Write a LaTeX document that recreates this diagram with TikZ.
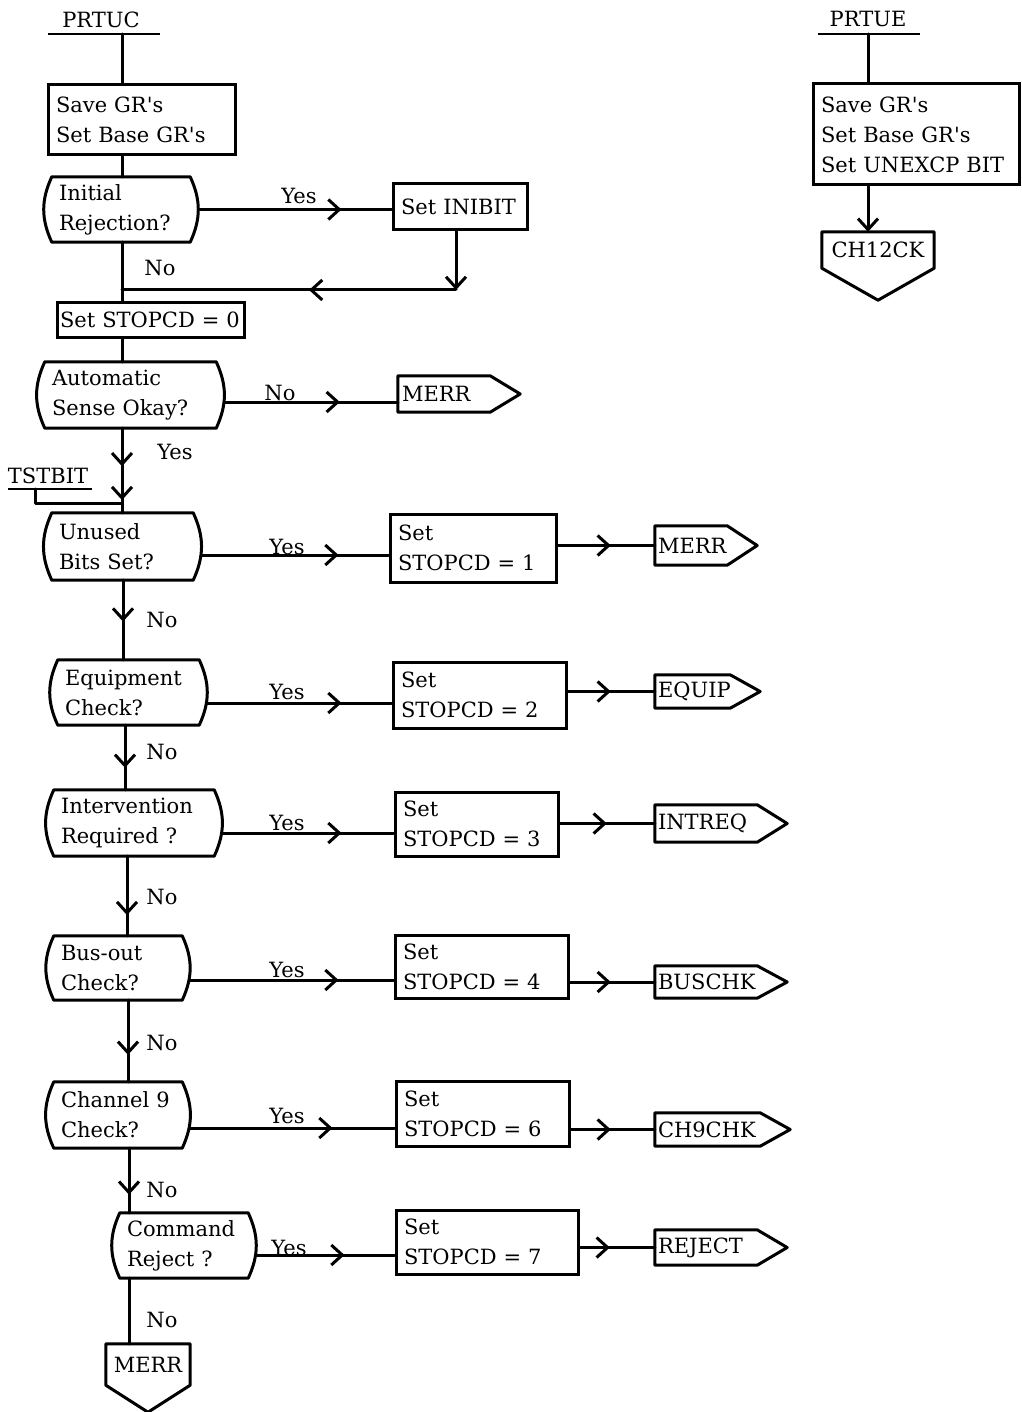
\documentclass[tikz,border=0pt]{standalone}
\usepackage{fontspec}
\setmainfont{DejaVu Serif}
\usetikzlibrary{arrows.meta,decorations.markings}
\newcommand{\fs}{\fontsize{21}{30}\selectfont}
\newcommand{\apos}{\textquotesingle}
\tikzset{
  chev/.tip={Straight Barb[length=11pt,width=20pt]},
  flow/.style={line width=3pt, line join=round, line cap=round},
  thinline/.style={line width=1.5pt},
  box/.style={draw, line width=3pt, rectangle, inner xsep=8pt, inner ysep=0pt, align=left},
  dec/.style={rectangle, inner xsep=15pt, inner ysep=0pt, align=left},
  conn/.style={rectangle, inner xsep=4pt, inner ysep=0pt, align=left},
  lbl/.style={inner sep=0pt},
  ma/.style={decoration={markings, mark=at position #1 with {\arrow{chev}}}, postaction={decorate}},
}
\newcommand{\decshape}[1]{\draw[flow] ([xshift=8pt]#1.north west) -- ([xshift=-8pt]#1.north east) to[out=-65,in=65] ([xshift=-8pt]#1.south east) -- ([xshift=8pt]#1.south west) to[out=115,in=-115] ([xshift=8pt]#1.north west) -- cycle;}
\newcommand{\sigR}[1]{\draw[flow] (#1.north west) -- (#1.north east) -- ([xshift=30pt]#1.east) -- (#1.south east) -- (#1.south west) -- cycle;}
\newcommand{\sigD}[2]{\draw[flow] (#1.north west) -- (#1.north east) -- (#1.south east) -- ([yshift=-#2]#1.south) -- (#1.south west) -- cycle;}
\begin{document}
\begin{tikzpicture}[x=1pt,y=-1pt,font=\fs]
\useasboundingbox (0,0) rectangle (1021,1412);

% ---------- left column ----------
\node[lbl] (prtuc) at (101,20) {PRTUC};
\coordinate (pcL) at (48,34); \coordinate (pcR) at (160,34); \coordinate (pc) at (122,34);
\draw[thinline] (pcL) -- (pcR);

\node[box, minimum width=187pt, minimum height=70pt, text width=171pt] (b0) at (141.5,120) {Save GR\apos s\\Set Base GR\apos s};

\node[dec, minimum width=154pt, minimum height=65pt, text width=124pt] (d1) at (121,209.5) {Initial\\Rejection?};
\decshape{d1}
\node[box, minimum width=134pt, minimum height=46pt, text width=118pt] (ini) at (460,207) {Set INIBIT};

\node[box, minimum width=187pt, minimum height=34pt, inner xsep=3pt, text width=181pt] (s0) at (150.5,320) {Set STOPCD = 0};

\node[dec, minimum width=187pt, minimum height=66pt, text width=157pt] (d2) at (130.5,395) {Automatic\\Sense Okay?};
\decshape{d2}
\node[conn, minimum width=92pt, minimum height=36pt, text width=84pt] (m1) at (444,394) {MERR};
\sigR{m1}

\node[lbl] (tst) at (48,476) {TSTBIT};
\coordinate (tsL) at (8,489); \coordinate (tsR) at (92,489);
\draw[thinline] (tsL) -- (tsR);
\coordinate (tsA) at (35,489); \coordinate (tsJ) at (122,503);

\node[dec, minimum width=157pt, minimum height=67pt, text width=127pt] (d3) at (122.5,546.5) {Unused\\Bits Set?};
\decshape{d3}
\node[box, minimum width=166pt, minimum height=68pt, text width=150pt] (s1) at (473,548) {Set\\STOPCD = 1};
\node[conn, minimum width=72pt, minimum height=39pt, inner xsep=3pt, text width=66pt] (m2) at (691,545.5) {MERR};
\sigR{m2}

\node[dec, minimum width=157pt, minimum height=65pt, text width=127pt] (d4) at (128.5,692.5) {Equipment\\Check?};
\decshape{d4}
\node[box, minimum width=173pt, minimum height=66pt, text width=157pt] (s2) at (479.5,695) {Set\\STOPCD = 2};
\node[conn, minimum width=75pt, minimum height=33pt, inner xsep=3pt, text width=69pt] (eq) at (692.5,691.5) {EQUIP};
\sigR{eq}

\node[dec, minimum width=176pt, minimum height=66pt, text width=146pt] (d5) at (134,823) {Intervention\\Required ?};
\decshape{d5}
\node[box, minimum width=163pt, minimum height=64pt, text width=147pt] (s3) at (476.5,824) {Set\\STOPCD = 3};
\node[conn, minimum width=102pt, minimum height=37pt, inner xsep=3pt, text width=96pt] (intr) at (706,823.5) {INTREQ};
\sigR{intr}

\node[dec, minimum width=144pt, minimum height=64pt, text width=114pt] (d6) at (118,968) {Bus-out\\Check?};
\decshape{d6}
\node[box, minimum width=173pt, minimum height=63pt, text width=157pt] (s4) at (481.5,966.5) {Set\\STOPCD = 4};
\node[conn, minimum width=102pt, minimum height=32pt, inner xsep=3pt, text width=96pt] (bus) at (706,982) {BUSCHK};
\sigR{bus}

\node[dec, minimum width=144pt, minimum height=66pt, text width=114pt] (d7) at (118,1115) {Channel 9\\Check?};
\decshape{d7}
\node[box, minimum width=173pt, minimum height=65pt, text width=157pt] (s6) at (482.5,1113.5) {Set\\STOPCD = 6};
\node[conn, minimum width=105pt, minimum height=33pt, inner xsep=3pt, text width=99pt] (ch9) at (707.5,1129.5) {CH9CHK};
\sigR{ch9}

\node[dec, minimum width=144pt, minimum height=65pt, text width=114pt] (d8) at (184,1245.5) {Command\\Reject ?};
\decshape{d8}
\node[box, minimum width=182pt, minimum height=64pt, text width=166pt] (s7) at (487,1242) {Set\\STOPCD = 7};
\node[conn, minimum width=102pt, minimum height=35pt, inner xsep=3pt, text width=96pt] (rej) at (706,1247.5) {REJECT};
\sigR{rej}

\node[conn, minimum width=84pt, minimum height=41pt, align=center] (mB) at (148,1364.5) {MERR};
\sigD{mB}{27pt}

% ---------- right column ----------
\node[lbl] (prtue) at (868,19) {PRTUE};
\coordinate (peL) at (818,34); \coordinate (peR) at (920,34); \coordinate (pe) at (868,34);
\draw[thinline] (peL) -- (peR);
\node[box, minimum width=206pt, minimum height=101pt, inner xsep=8pt, text width=190pt] (e0) at (916,134.5) {Save GR\apos s\\Set Base GR\apos s\\Set UNEXCP BIT};
\node[conn, minimum width=112pt, minimum height=36pt, align=center] (ch12) at (878,250) {CH12CK};
\sigD{ch12}{32pt}

% ---------- connectors ----------
\coordinate (c3) at (123,0); \coordinate (c4) at (125,0); \coordinate (c5) at (127,0);
\coordinate (c6) at (128,0); \coordinate (c7) at (129,0);
\coordinate (j1) at (122,290);

\draw[flow] (pc) -- (pc |- b0.north);
\draw[flow] (b0.south -| pc) -- (d1.north -| pc);
\draw[flow, ma=-50pt] (d1.east) -- (d1.east -| ini.west);
\draw[flow, -{chev}] ([xshift=-4pt]ini.south) -- ([xshift=-4pt]ini.south |- j1);
\draw[flow, ma=0.44] ([xshift=-4pt]ini.south |- j1) -- (j1);
\draw[flow] (d1.south -| pc) -- (s0.north -| pc);
\draw[flow] (s0.south -| pc) -- (d2.north -| pc);
\draw[flow, ma=-58pt] ([yshift=-7pt]d2.east) -- ([yshift=-7pt]d2.east -| m1.west);
\draw[flow, decoration={markings, mark=at position 0.45 with {\arrow{chev}}, mark=at position 0.85 with {\arrow{chev}}}, postaction={decorate}] (d2.south -| pc) -- (d3.north -| pc);
\draw[flow] (tsA) |- (tsJ);

\draw[flow, ma=-50pt] ([yshift=-8.5pt]d3.east) -- ([yshift=-8.5pt]d3.east -| s1.west);
\draw[flow, ma=-44pt] (s1.east |- m2.west) -- (m2.west);
\draw[flow, ma=0.52] (d3.south -| c3) -- (d4.north -| c3);

\draw[flow, ma=-50pt] ([yshift=-10.5pt]d4.east) -- ([yshift=-10.5pt]d4.east -| s2.west);
\draw[flow, ma=-44pt] (s2.east |- eq.west) -- (eq.west);
\draw[flow, ma=0.66] (d4.south -| c4) -- (d5.north -| c4);

\draw[flow, ma=-52pt] ([yshift=-10pt]d5.east) -- ([yshift=-10pt]d5.east -| s3.west);
\draw[flow, ma=-48pt] (s3.east |- intr.west) -- (intr.west);
\draw[flow, ma=0.74] (d5.south -| c5) -- (d6.north -| c5);

\draw[flow, ma=-55pt] ([yshift=-12pt]d6.east) -- ([yshift=-12pt]d6.east -| s4.west);
\draw[flow, ma=-44pt] (s4.east |- bus.west) -- (bus.west);
\draw[flow, ma=0.67] (d6.south -| c6) -- (d7.north -| c6);

\draw[flow, ma=-62pt] ([yshift=-13pt]d7.east) -- ([yshift=-13pt]d7.east -| s6.west);
\draw[flow, ma=-44pt] (s6.east |- ch9.west) -- (ch9.west);
\draw[flow, ma=0.72] (d7.south -| c7) -- (d8.north -| c7);

\draw[flow, ma=-50pt] ([yshift=-9.5pt]d8.east) -- ([yshift=-9.5pt]d8.east -| s7.west);
\draw[flow, ma=-45pt] (s7.east |- rej.west) -- (rej.west);
\draw[flow] (d8.south -| c7) -- (mB.north -| c7);

\draw[flow] (pe) -- (pe |- e0.north);
\draw[flow, -{chev}] (e0.south -| pe) -- (ch12.north -| pe);

% ---------- labels ----------
\node[lbl] (l1) at (299,196) {Yes};
\node[lbl] (l2) at (160,268) {No};
\node[lbl] (l3) at (280,393) {No};
\node[lbl] (l4) at (175,452) {Yes};
\node[lbl] (l5) at (287,547) {Yes};
\node[lbl] (l6) at (162,620) {No};
\node[lbl] (l7) at (287,692) {Yes};
\node[lbl] (l8) at (162,752) {No};
\node[lbl] (l9) at (287,823) {Yes};
\node[lbl] (l10) at (162,897) {No};
\node[lbl] (l11) at (287,970) {Yes};
\node[lbl] (l12) at (162,1043) {No};
\node[lbl] (l13) at (287,1116) {Yes};
\node[lbl] (l14) at (162,1190) {No};
\node[lbl] (l15) at (289,1248) {Yes};
\node[lbl] (l16) at (162,1320) {No};
\end{tikzpicture}
\end{document}
